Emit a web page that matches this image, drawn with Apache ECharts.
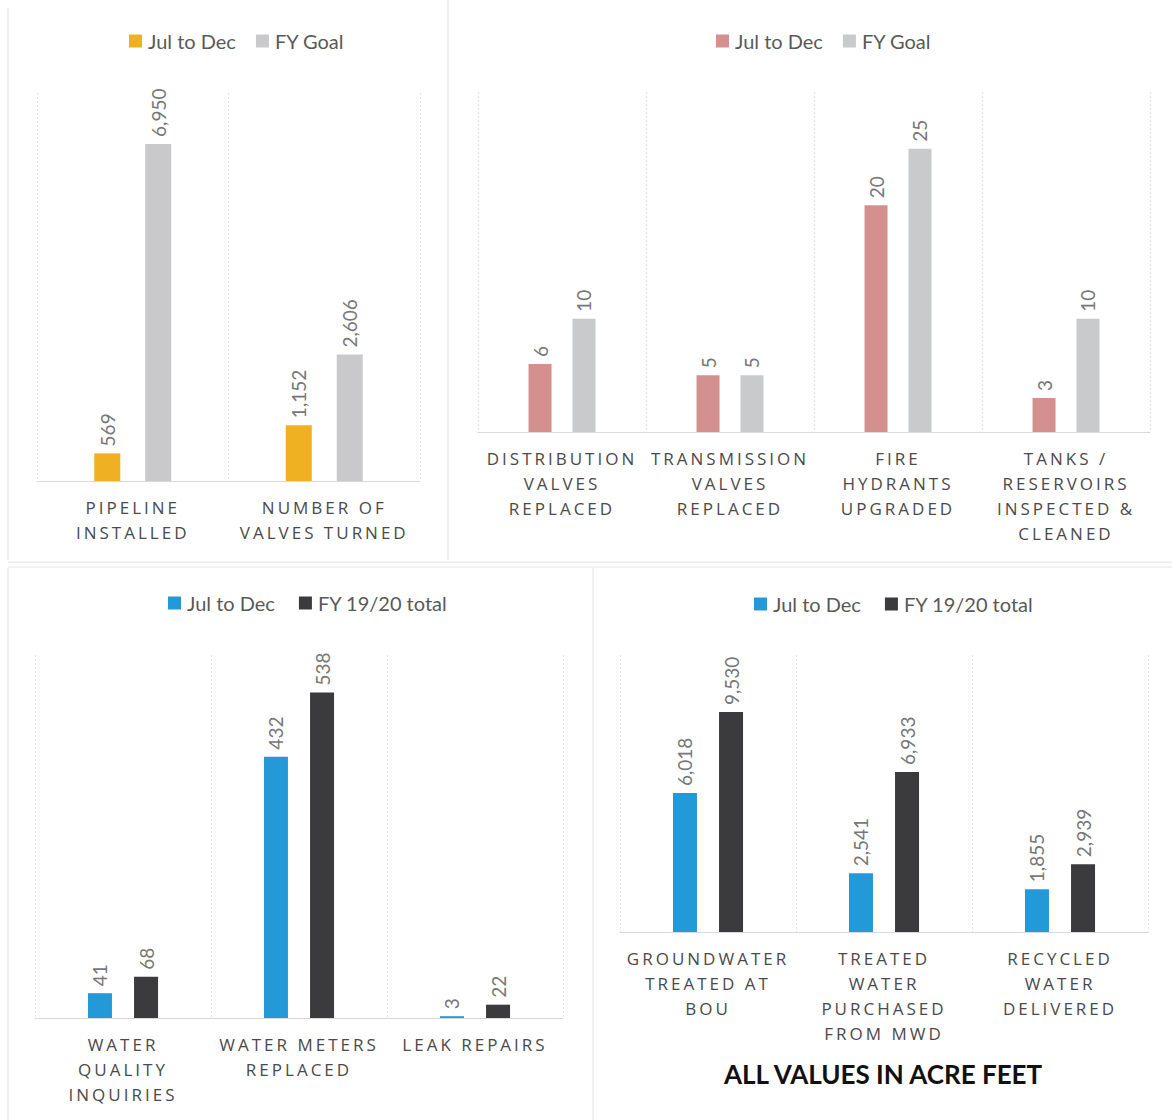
<!DOCTYPE html>
<html>
<head>
<meta charset="utf-8">
<script src="https://cdn.jsdelivr.net/npm/echarts@6/dist/echarts.min.js"></script>
<style>
  html, body { margin: 0; padding: 0; background: #fff; }
  #main { width: 1172px; height: 1120px; }
  text[style*="Open Sans"], text[font-family*="Open Sans"] { letter-spacing: 3px; }
</style>
</head>
<body>
<div id="main"></div>
<script>
// panel 1 - pipeline / valves
const cats1 = ['PIPELINE\nINSTALLED', 'NUMBER OF\nVALVES TURNED']
const julDec1 = [569, 1152]
const goal1 = [6950, 2606]

// panel 2 - valves, hydrants, tanks
const cats2 = ['DISTRIBUTION\nVALVES\nREPLACED', 'TRANSMISSION\nVALVES\nREPLACED', 'FIRE\nHYDRANTS\nUPGRADED', 'TANKS /\nRESERVOIRS\nINSPECTED &\nCLEANED']
const julDec2 = [6, 5, 20, 3]
const goal2 = [10, 5, 25, 10]

// panel 3 - meters, inquiries, leaks
const cats3 = ['WATER\nQUALITY\nINQUIRIES', 'WATER METERS\nREPLACED', 'LEAK REPAIRS']
const julDec3 = [41, 432, 3]
const total3 = [68, 538, 22]

// panel 4 - acre feet
const cats4 = ['GROUNDWATER\nTREATED AT\nBOU', 'TREATED\nWATER\nPURCHASED\nFROM MWD', 'RECYCLED\nWATER\nDELIVERED']
const julDec4 = [6018, 2541, 1855]
const total4 = [9530, 6933, 2939]

const legendNames = {
  a1: 'Jul to Dec', b1: 'FY Goal',
  a2: 'Jul to Dec', b2: 'FY Goal',
  a3: 'Jul to Dec', b3: 'FY 19/20 total',
  a4: 'Jul to Dec', b4: 'FY 19/20 total'
}

let grids = [
  { left: 37, top: 93, width: 383, height: 388 },
  { left: 478, top: 92, width: 672, height: 340 },
  { left: 35, top: 655, width: 528, height: 363 },
  { left: 620, top: 655, width: 528, height: 277 }
]
let maxes = [8000, 30, 600, 12000]
let allCats = [cats1, cats2, cats3, cats4]

let xAxes = allCats.map((c, i) => ({
  type: 'category',
  gridIndex: i,
  data: c,
  axisTick: { show: false },
  axisLine: { lineStyle: { color: '#d9d9d9' } },
  splitLine: { show: true, lineStyle: { color: '#e3e3e3', type: [2, 2] } },
  axisLabel: {
    interval: 0,
    margin: 14,
    lineHeight: 25,
    fontFamily: 'Open Sans',
    fontSize: 17,
    color: '#4a4a4a',
    hideOverlap: false
  }
}))
let yAxes = maxes.map((m, i) => ({
  type: 'value',
  gridIndex: i,
  min: 0,
  max: m,
  show: false,
  splitLine: { show: false }
}))

function fmt (p) {
  return p.value.toLocaleString('en-US')
}
function bar (name, idx, data, color, w, gap) {
  return {
    name: name,
    type: 'bar',
    xAxisIndex: idx,
    yAxisIndex: idx,
    data: data,
    barWidth: w,
    barGap: gap,
    itemStyle: { color: color },
    label: {
      show: true,
      position: 'top',
      rotate: 90,
      align: 'left',
      verticalAlign: 'middle',
      distance: 7,
      formatter: fmt,
      fontFamily: 'Lato',
      fontSize: 19,
      color: '#777777'
    }
  }
}

let series = [
  bar('a1', 0, julDec1, '#efb121', 26, '96%'),
  bar('b1', 0, goal1, '#c9c9cb', 26, '96%'),
  bar('a2', 1, julDec2, '#d4908e', 23, '91%'),
  bar('b2', 1, goal2, '#c9cacc', 23, '91%'),
  bar('a3', 2, julDec3, '#2399d8', 24, '92%'),
  bar('b3', 2, total3, '#3b3b3d', 24, '92%'),
  bar('a4', 3, julDec4, '#2399d8', 24, '92%'),
  bar('b4', 3, total4, '#3b3b3d', 24, '92%')
]

function legend (names, left, top, gap) {
  return {
    data: names,
    left: left,
    top: top,
    icon: 'rect',
    itemWidth: 13,
    itemHeight: 13,
    itemGap: gap,
    selectedMode: false,
    formatter: function (n) { return legendNames[n] },
    textStyle: { fontFamily: 'Lato', fontSize: 20, color: '#595959', padding: [0, 0, 0, 1] }
  }
}

// faint scanned panel borders
let lineStyle = { stroke: '#e2e2e2', lineWidth: 1 }
let borders = [
  [8, 8, 8, 560], [448, 0, 448, 560], [8, 562, 1172, 562],
  [8, 568, 8, 1120], [593, 568, 593, 1120], [8, 567, 1172, 567]
].map(p => ({ type: 'line', shape: { x1: p[0], y1: p[1], x2: p[2], y2: p[3] }, style: lineStyle, silent: true }))

let myChart = echarts.init(document.getElementById('main'), null, { renderer: 'svg' })
let option = {
  animation: false,
  backgroundColor: '#fff',
  grid: grids,
  xAxis: xAxes,
  yAxis: yAxes,
  legend: [
    legend(['a1', 'b1'], 124, 26, 20),
    legend(['a2', 'b2'], 711, 26, 20),
    legend(['a3', 'b3'], 163, 588, 24),
    legend(['a4', 'b4'], 749, 589, 24)
  ],
  series: series,
  graphic: borders.concat([{
    type: 'text',
    left: 724,
    top: 1061,
    style: {
      text: 'ALL VALUES IN ACRE FEET',
      font: 'bold 26px Lato',
      fill: '#111'
    }
  }])
}
myChart.setOption(option)
</script>
</body>
</html>
